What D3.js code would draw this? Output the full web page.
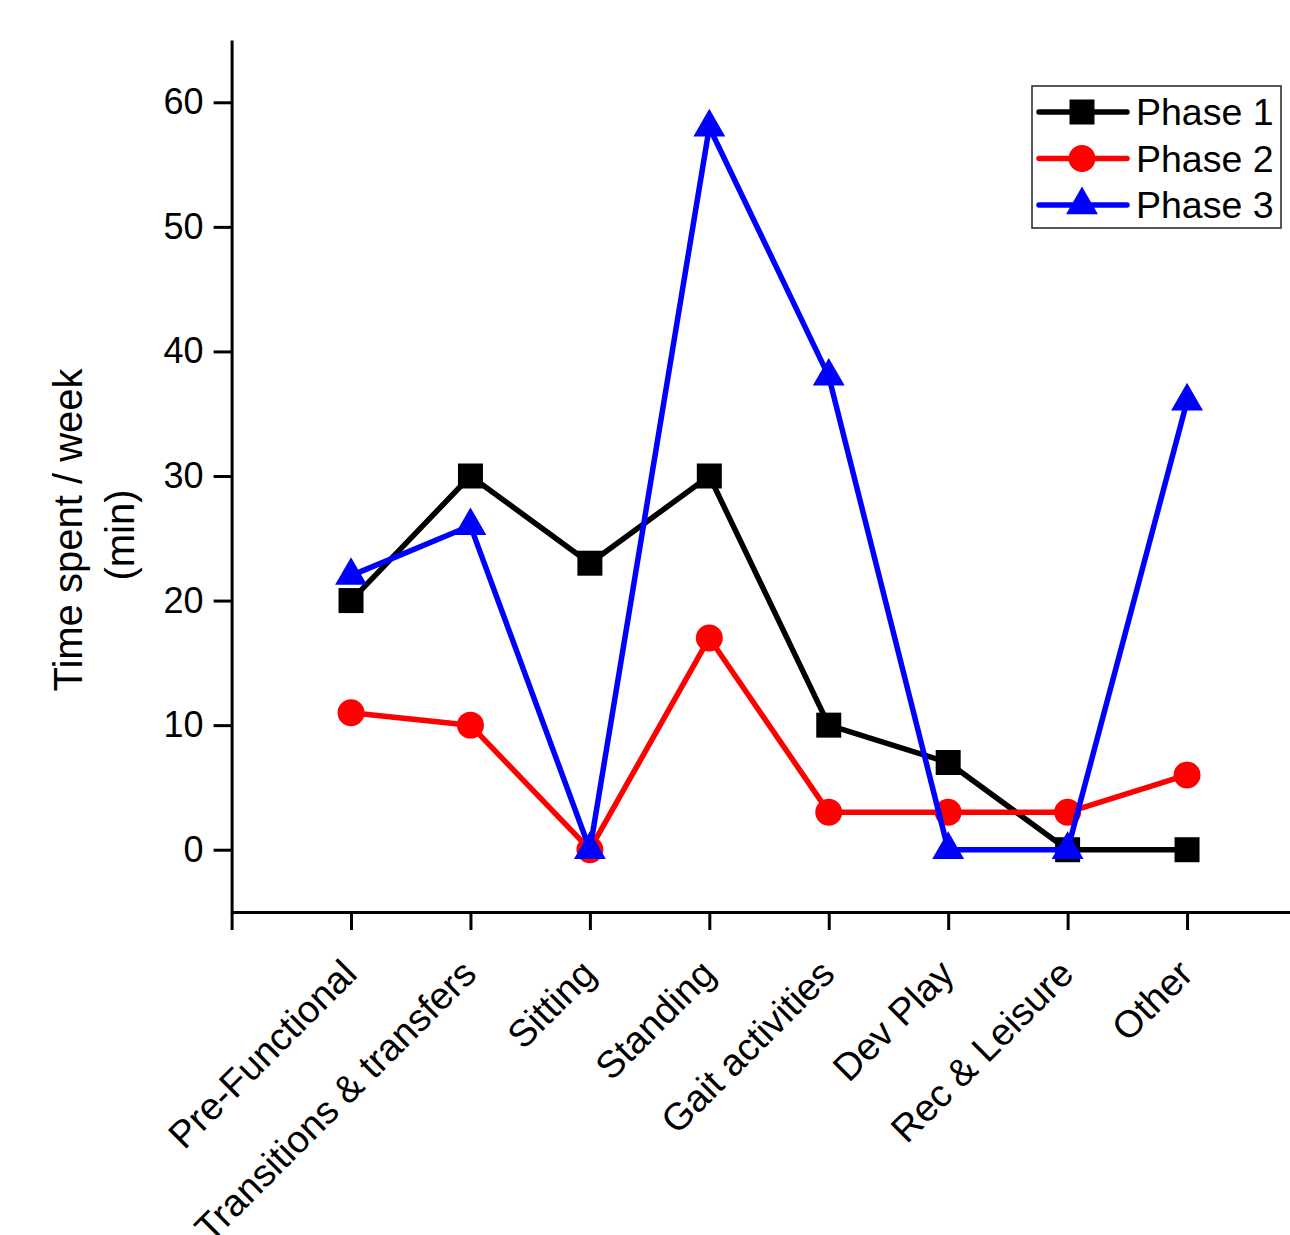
<!doctype html>
<html>
    <head>
        <title>Time spent per week</title>
        <script src="https://d3js.org/d3.v7.min.js"></script>
        <style>
          body { margin: 0; background: #fff; }
          text { font-family: Arial, "Liberation Sans", sans-serif; fill: #000; }
        </style>
    </head>
    <body>
        <svg id="chart" width="1290" height="1235"></svg>
        <script>
          var categories = ['Pre-Functional', 'Transitions & transfers', 'Sitting', 'Standing',
                            'Gait activities', 'Dev Play', 'Rec & Leisure', 'Other'];
          var phase1 = [20, 30, 23, 30, 10, 7, 0, 0];
          var phase2 = [11, 10, 0, 17, 3, 3, 3, 6];
          var phase3 = [22, 26, 0, 58, 38, 0, 0, 36];
          var yTicks = [0, 10, 20, 30, 40, 50, 60];

          var series = [
            { name: 'Phase 1', values: phase1, color: '#000000', symbol: d3.symbolSquare, size: 625 },
            { name: 'Phase 2', values: phase2, color: '#ff0000', symbol: d3.symbolCircle, size: 570 },
            { name: 'Phase 3', values: phase3, color: '#0000ff', symbol: d3.symbolTriangle, size: 440 }
          ];

          var svg = d3.select('#chart');

          var xScale = d3.scaleLinear()
            .domain([0, 9])
            .range([231.6, 231.6 + 9 * 119.43]);

          var yScale = d3.scaleLinear()
            .domain([-5, 65])
            .range([912, 40]);

          var yAxis = d3.axisLeft()
            .scale(yScale)
            .tickValues(yTicks)
            .tickSize(18)
            .tickSizeOuter(0)
            .tickPadding(10);

          var yAxisG = svg.append('g')
            .attr('transform', 'translate(231.6,0)')
            .call(yAxis);

          var xAxis = d3.axisBottom()
            .scale(xScale)
            .tickValues(d3.range(0, categories.length + 1))
            .tickSize(18)
            .tickSizeOuter(0)
            .tickFormat('');

          var xAxisG = svg.append('g')
            .attr('transform', 'translate(0,912)')
            .call(xAxis);

          [yAxisG, xAxisG].forEach(function(g) {
            g.selectAll('path, line')
              .style('stroke', '#000')
              .style('stroke-width', '3px');
            g.selectAll('text')
              .style('font-size', '36px')
              .style('font-family', 'Arial, "Liberation Sans", sans-serif')
              .style('fill', '#000');
          });

          // rotated category labels
          svg.append('g')
            .selectAll('text.cat')
            .data(categories)
            .enter()
            .append('text')
              .attr('class', 'cat')
              .attr('transform', (d, i) => `translate(${xScale(i + 1) + 8},976) rotate(-45)`)
              .attr('text-anchor', 'end')
              .style('font-size', '38px')
              .text(d => d);

          // y title
          var title = svg.append('text')
            .attr('transform', 'rotate(-90)')
            .attr('text-anchor', 'middle')
            .style('font-size', '40px');
          title.append('tspan').attr('x', -530).attr('y', 82).text('Time spent / week');
          title.append('tspan').attr('x', -535).attr('y', 134).text('(min)');

          var line = d3.line()
            .x((d, i) => xScale(i + 1))
            .y(d => yScale(d));

          series.forEach(function(s) {
            var g = svg.append('g').attr('class', 'series');
            g.append('path')
              .datum(s.values)
              .attr('d', line)
              .style('fill', 'none')
              .style('stroke', s.color)
              .style('stroke-width', '5.5px')
              .style('stroke-linejoin', 'round');
            g.selectAll('path.pt')
              .data(s.values)
              .enter()
              .append('path')
                .attr('class', 'pt')
                .attr('d', d3.symbol().type(s.symbol).size(s.size))
                .attr('transform', (d, i) => `translate(${xScale(i + 1)},${yScale(d)})`)
                .style('fill', s.color);
          });

          // legend
          var legend = svg.append('g').attr('transform', 'translate(1032,86)');
          legend.append('rect')
            .attr('width', 249)
            .attr('height', 142)
            .style('fill', '#fff')
            .style('stroke', '#222')
            .style('stroke-width', '1.5px');

          var rows = legend.selectAll('g.row')
            .data(series)
            .enter()
            .append('g')
              .attr('class', 'row')
              .attr('transform', (d, i) => `translate(0,${26 + i * 46.5})`);
          rows.append('line')
            .attr('x1', 7).attr('x2', 95)
            .attr('y1', 0).attr('y2', 0)
            .style('stroke', d => d.color)
            .style('stroke-width', '5.5px')
            .style('stroke-linecap', 'round');
          rows.append('path')
            .attr('d', d => d3.symbol().type(d.symbol).size(d.size)())
            .attr('transform', 'translate(50,0)')
            .style('fill', d => d.color);
          rows.append('text')
            .attr('x', 104)
            .attr('dy', '0.35em')
            .style('font-size', '37.5px')
            .text(d => d.name);
        </script>
    </body>
</html>
